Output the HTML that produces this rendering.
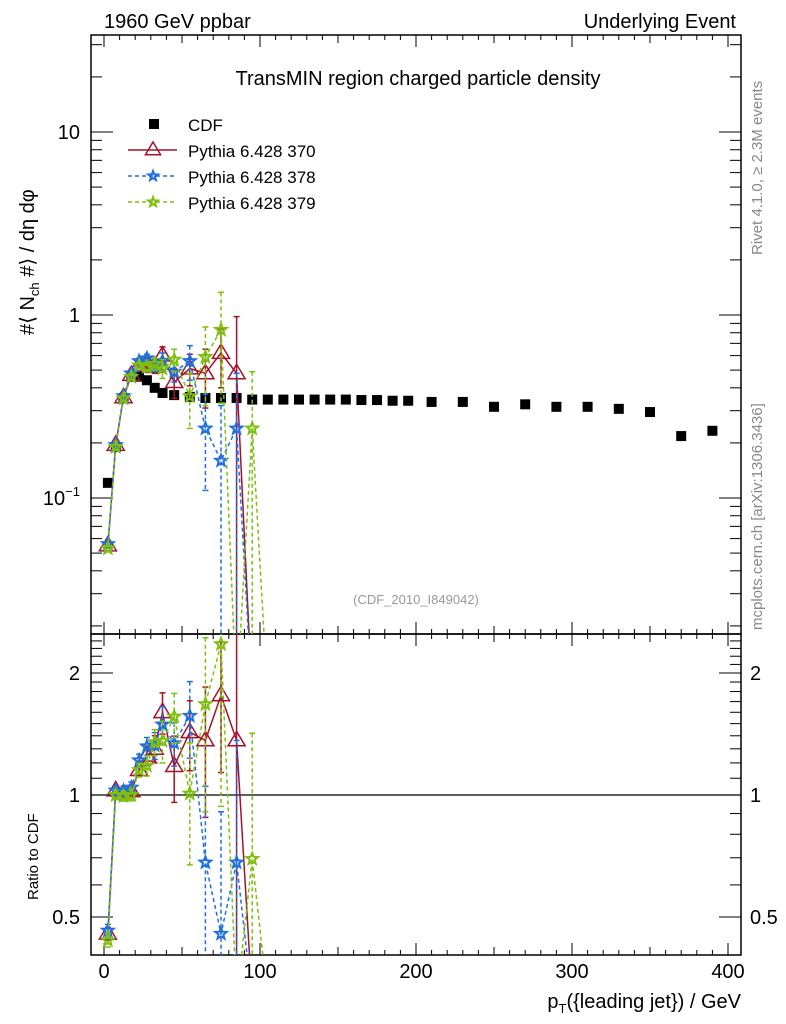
<!DOCTYPE html>
<html><head><meta charset="utf-8"><style>
html,body{margin:0;background:#fff;overflow:hidden;width:786px;height:1024px}
svg{display:block;font-family:"Liberation Sans",sans-serif;overflow:hidden}
</style></head><body>
<svg id="chart" width="786" height="1024" viewBox="0 0 786 1024">
<defs>
<clipPath id="cm"><rect x="91" y="35" width="650" height="599"/></clipPath>
<clipPath id="cr"><rect x="91" y="634" width="650" height="321"/></clipPath>
</defs>
<text x="104" y="28" font-size="20">1960 GeV ppbar</text>
<text x="736" y="28" font-size="20" text-anchor="end">Underlying Event</text>
<text x="418" y="85" font-size="20" text-anchor="middle">TransMIN region charged particle density</text>
<text x="416" y="604" font-size="13" fill="#999" text-anchor="middle">(CDF_2010_I849042)</text>
<text transform="translate(762,255) rotate(-90)" font-size="15" fill="#888">Rivet 4.1.0, ≥ 2.3M events</text>
<text transform="translate(762,630) rotate(-90)" font-size="15" fill="#888">mcplots.cern.ch [arXiv:1306.3436]</text>
<text transform="translate(34,335) rotate(-90)" font-size="20">#⟨ N<tspan font-size="13" dy="5">ch</tspan><tspan dy="-5"> #⟩ / dη dφ</tspan></text>
<text transform="translate(38,900) rotate(-90)" font-size="15">Ratio to CDF</text>
<text x="741" y="1008" font-size="20" text-anchor="end">p<tspan font-size="13" dy="5">T</tspan><tspan dy="-5">({leading jet}) / GeV</tspan></text>
<g id="axes"></g>
<g id="main" clip-path="url(#cm)"></g>
<g id="ratio" clip-path="url(#cr)"></g>
<g id="legend"></g>
</svg>
<script>
const xs=[2.5,7.5,12.5,17.5,22.5,27.5,32.5,37.5,45,55,65,75,85,95,105,115,125,135,145,155,165,175,185,195,210,230,250,270,290,310,330,350,370,390];
const cdf=[0.121,0.19,0.352,0.46,0.46,0.44,0.40,0.375,0.365,0.357,0.352,0.352,0.352,0.345,0.345,0.345,0.345,0.345,0.345,0.345,0.343,0.343,0.34,0.34,0.335,0.335,0.315,0.325,0.315,0.315,0.307,0.295,0.218,0.233];
const mcX=[2.5,7.5,12.5,17.5,22.5,27.5,32.5,37.5,45,55,65,75,85,95,105];
const p370=[0.055,0.195,0.355,0.47,0.53,0.55,0.52,0.60,0.43,0.51,0.48,0.62,0.48,0,0];
const e370=[0.002,0.005,0.01,0.015,0.02,0.03,0.04,0.07,0.08,0.1,0.17,0.22,0.5,0,0];
const p378=[0.056,0.195,0.36,0.48,0.56,0.58,0.53,0.56,0.49,0.56,0.24,0.16,0.24,0,0];
const e378=[0.002,0.005,0.01,0.015,0.02,0.03,0.04,0.06,0.06,0.12,0.13,0.16,0.24,0,0];
const p379=[0.053,0.19,0.35,0.46,0.53,0.52,0.54,0.51,0.57,0.36,0.59,0.83,0,0.24,0];
const e379=[0.002,0.005,0.01,0.015,0.02,0.03,0.04,0.06,0.08,0.12,0.27,0.5,0,0.25,0];
const xTicks=[0,100,200,300,400];
const NS="http://www.w3.org/2000/svg";
const X=v=>104+1.56*v;
const Ym=v=>v<=0?700:Math.min(700,315-183*Math.log10(v));
const Yr=v=>v<=0?1000:Math.min(1000,795-122*Math.log2(v));
function el(p,t,a){const e=document.createElementNS(NS,t);for(const k in a)e.setAttribute(k,a[k]);p.appendChild(e);return e;}
const axes=document.getElementById('axes');
for(const [y0,y1,nm] of [[35,634,'main-frame'],[634,955,'ratio-frame']]){
 const r=el(axes,'rect',{x:91,y:y0,width:650,height:y1-y0,fill:'none',stroke:'#000','stroke-width':1.5});
 
 for(let v=-10;v<=410;v+=10){const x=X(v);if(x<91||x>741)continue;const L=v%100==0?12:(v%50==0?8:5);
  el(axes,'line',{x1:x,x2:x,y1:y1,y2:y1-L,stroke:'#000'});el(axes,'line',{x1:x,x2:x,y1:y0,y2:y0+L,stroke:'#000'});}
}
xTicks.forEach(v=>{const t=el(axes,'text',{x:X(v),y:978,'font-size':20,'text-anchor':'middle'});t.textContent=v;
});
for(let d=-2;d<=1;d++)for(let m=1;m<10;m++){const v=m*Math.pow(10,d);const y=315-183*Math.log10(v);if(y<35||y>634)continue;const L=m==1?22:11;
 el(axes,'line',{x1:91,x2:91+L,y1:y,y2:y,stroke:'#000'});el(axes,'line',{x1:741,x2:741-L,y1:y,y2:y,stroke:'#000'});}
[[10,'10'],[1,'1']].forEach(([v,s])=>{const t=el(axes,'text',{x:80,y:Ym(v)+7,'font-size':20,'text-anchor':'end'});t.textContent=s;});
{const t=el(axes,'text',{x:80,y:Ym(0.1)+7,'font-size':20,'text-anchor':'end'});t.innerHTML='10<tspan font-size="13" dy="-9">−1</tspan>';}
for(let v=0.4;v<=2.5;v+=0.1){const y=Yr(v);if(y<634||y>955)continue;const big=Math.abs(v-0.5)<1e-6||Math.abs(v-1)<1e-6||Math.abs(v-2)<1e-6;const L=big?22:11;
 el(axes,'line',{x1:91,x2:91+L,y1:y,y2:y,stroke:'#000'});el(axes,'line',{x1:741,x2:741-L,y1:y,y2:y,stroke:'#000'});}
[[2,'2'],[1,'1'],[0.5,'0.5']].forEach(([v,s])=>{for(const [x,a] of [[80,'end'],[750,'start']]){const t=el(axes,'text',{x:x,y:Yr(v)+7,'font-size':20,'text-anchor':a});t.textContent=s;}});
el(axes,'line',{x1:91,x2:741,y1:Yr(1),y2:Yr(1),stroke:'#000','stroke-width':1.2});
function star(g,x,y,c,s){let p='';for(let i=0;i<10;i++){const r=i%2?s*0.42:s;const a=-Math.PI/2+i*Math.PI/5;p+=(i?'L':'M')+(x+r*Math.cos(a)).toFixed(1)+','+(y+r*Math.sin(a)).toFixed(1);}return el(g,'path',{d:p+'Z',fill:'none',stroke:c,'stroke-width':2});}
function tri(g,x,y,c,s){return el(g,'path',{d:`M${x},${y-s}L${x+s*0.95},${y+s*0.6}L${x-s*0.95},${y+s*0.6}Z`,fill:'none',stroke:c,'stroke-width':1.5});}
const series=[[p370,e370,'#a5122a',null,'tri','pythia-370'],[p378,e378,'#1f6fe0','4,3','star','pythia-378'],[p379,e379,'#7fbf10','4,3','star','pythia-379']];
const gm=document.getElementById('main'),gr=document.getElementById('ratio');
xs.forEach((x,i)=>{const r=el(gm,'rect',{x:X(x)-5,y:Ym(cdf[i])-5,width:10,height:10,fill:'#000'});});
series.forEach(([vals,errs,c,dash,mk,nm])=>{
 for(const [g,Y,isR] of [[gm,Ym,false],[gr,Yr,true]]){
  const gg=el(g,'g',{});
  const vv=vals.map((v,i)=>isR?v/cdf[i]:v), ee=errs.map((e,i)=>isR?e/cdf[i]:e);
  const pts=mcX.map((x,i)=>X(x)+','+Y(vv[i]).toFixed(1));
  const a={points:pts.join(' '),fill:'none',stroke:c,'stroke-width':1.5};if(dash)a['stroke-dasharray']=dash;
  el(gg,'polyline',a);
  mcX.forEach((x,i)=>{if(vv[i]<=0)return;const px=X(x),py=Y(vv[i]);
   const lo=Y(Math.max(vv[i]-ee[i],1e-4)),hi=Y(vv[i]+ee[i]);
   const la={x1:px,x2:px,y1:hi,y2:lo,stroke:c,'stroke-width':1.5};if(dash)la['stroke-dasharray']=dash;el(gg,'line',la);
   el(gg,'line',{x1:px-3,x2:px+3,y1:hi,y2:hi,stroke:c,'stroke-width':1.5});el(gg,'line',{x1:px-3,x2:px+3,y1:lo,y2:lo,stroke:c,'stroke-width':1.5});
   const m=mk=='tri'?tri(gg,px,py,c,9):star(gg,px,py,c,6);});
 }
});
const lg=document.getElementById('legend');
const L=[['CDF','#000',null,'sq'],['Pythia 6.428 370','#a5122a',null,'tri'],['Pythia 6.428 378','#1f6fe0','4,3','star'],['Pythia 6.428 379','#7fbf10','4,3','star']];
L.forEach(([t,c,d,m],i)=>{const y=124+26*i;const g=el(lg,'g',{});
 if(m=='sq')el(g,'rect',{x:149,y:y-5,width:10,height:10,fill:'#000'});
 else{const a={x1:128,x2:177,y1:y,y2:y,stroke:c,'stroke-width':1.5};if(d)a['stroke-dasharray']=d;el(g,'line',a);m=='tri'?tri(g,153,y,c,8):star(g,153,y,c,5);}
 const tx=el(g,'text',{x:188,y:y+7,'font-size':17});tx.textContent=t;});
</script>
</body></html>
